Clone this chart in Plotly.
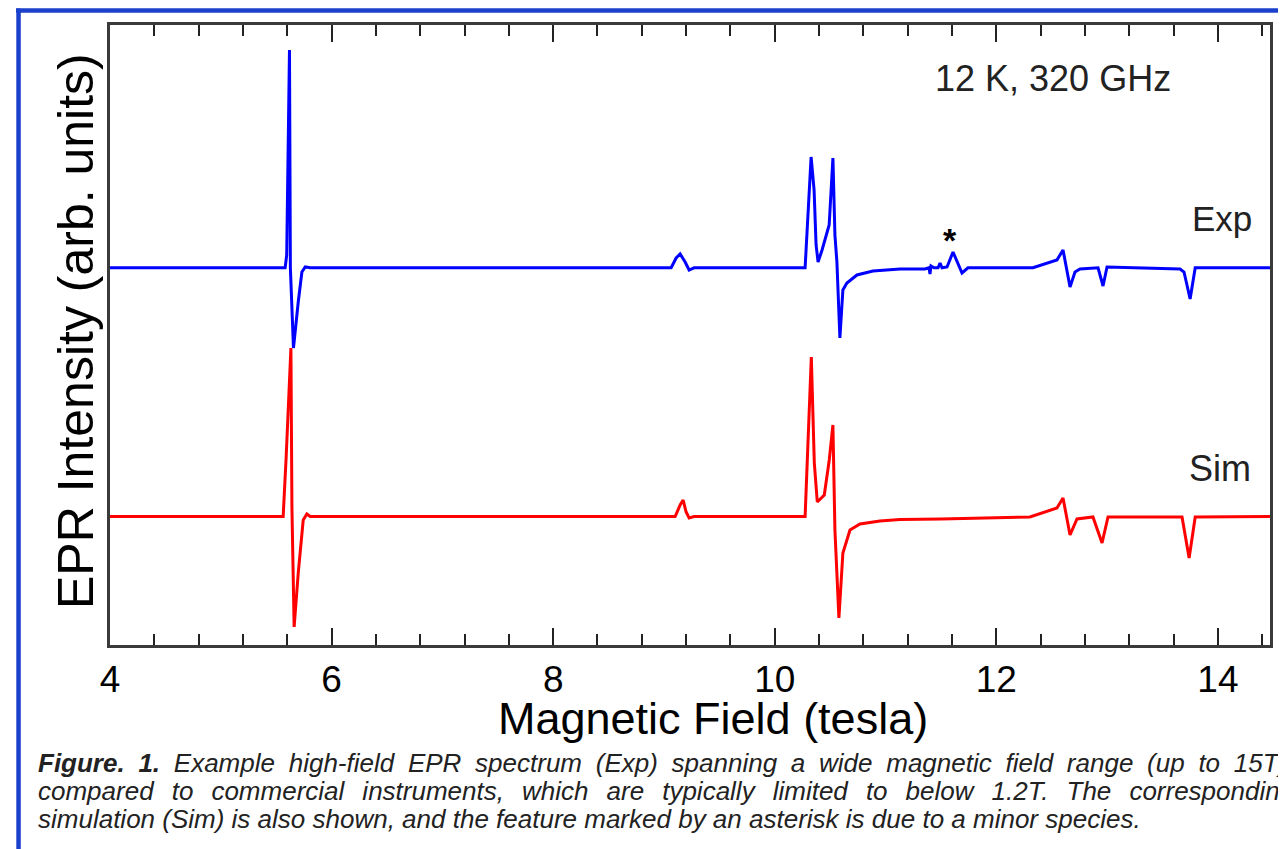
import plotly.graph_objects as go

# ---- data (field in tesla, intensity in arb. units) ----
exp_field = [4.000, 5.581, 5.595, 5.620, 5.628, 5.656, 5.699, 5.732, 5.762, 5.807,
             9.065, 9.110, 9.146, 9.191, 9.227, 9.272,
             10.274, 10.328, 10.355, 10.373, 10.391, 10.427, 10.491, 10.525, 10.543,
             10.561, 10.588, 10.615, 10.651, 10.742, 10.886, 11.130,
             11.356, 11.392, 11.401, 11.410, 11.437, 11.474, 11.492, 11.510,
             11.555, 11.609, 11.690, 11.744,
             12.331, 12.547, 12.602, 12.665, 12.710, 12.755, 12.918, 12.963, 12.999,
             13.658, 13.694, 13.749, 13.795, 14.480]
exp_int = [0.000, 0.000, 0.128, 2.178, 0.000, -0.802, -0.342, -0.042, 0.008, 0.000,
           0.000, 0.098, 0.138, 0.058, -0.022, 0.000,
           0.000, 1.108, 0.778, 0.228, 0.058, 0.178, 0.428, 1.098, 0.328,
           0.058, -0.702, -0.222, -0.152, -0.072, -0.032, -0.012,
           -0.012, 0.000, -0.062, 0.018, 0.000, 0.000, 0.048, 0.000,
           0.008, 0.158, -0.052, 0.000,
           0.000, 0.078, 0.178, -0.192, -0.042, -0.012, 0.000, -0.182, 0.008,
           -0.012, -0.042, -0.312, 0.000, 0.000]

sim_field = [4.000, 5.563, 5.590, 5.633, 5.642, 5.662, 5.699, 5.744, 5.777, 5.807,
             9.101, 9.146, 9.173, 9.200, 9.227, 9.272,
             10.274, 10.330, 10.357, 10.384, 10.447, 10.492, 10.525, 10.543, 10.579,
             10.615, 10.679, 10.769, 10.949, 11.130, 11.500, 11.879,
             12.303, 12.547, 12.602, 12.665, 12.728, 12.872, 12.954, 13.008,
             13.676, 13.740, 13.795, 14.480]
sim_int = [0.000, 0.000, 0.595, 1.685, 0.095, -1.105, -0.565, -0.035, 0.025, 0.000,
           0.000, 0.115, 0.165, 0.045, -0.015, 0.000,
           0.000, 1.595, 0.535, 0.145, 0.215, 0.565, 0.915, -0.135, -1.015,
           -0.365, -0.135, -0.075, -0.045, -0.030, -0.025, -0.018,
           -0.005, 0.085, 0.185, -0.185, -0.025, -0.005, -0.265, -0.005,
           -0.005, -0.415, -0.005, 0.000]

exp_offset = 0.0
sim_offset = -2.487

x_ticks = [4, 6, 8, 10, 12, 14]
x_tick_labels = ["4", "6", "8", "10", "12", "14"]

# caption (justified in the original: widened word gaps on the first two lines)
caption_lines = [
    "<b>Figure. 1.</b> Example high-field EPR spectrum (Exp) spanning a wide magnetic field range (up to 15T)",
    "compared to commercial instruments, which are typically limited to below 1.2T. The corresponding",
    "simulation (Sim) is also shown, and the feature marked by an asterisk is due to a minor species.",
]
caption_gap = [" \u2005", " \u2005\u2006", " "]

FONT = "Liberation Sans, Arial, Helvetica, sans-serif"

fig = go.Figure()
fig.add_trace(go.Scatter(x=exp_field, y=[v + exp_offset for v in exp_int], mode="lines",
                         line=dict(color="#0000ff", width=3), name="Exp", showlegend=False))
fig.add_trace(go.Scatter(x=sim_field, y=[v + sim_offset for v in sim_int], mode="lines",
                         line=dict(color="#ff0000", width=3), name="Sim", showlegend=False))

W, H = 1286, 849
OFF = 8  # page body margin in the browser
L, T = 110 - OFF, 25 - OFF
R = W - (1270.5 - OFF)
B = H - (645 - OFF)
pw, ph = W - L - R, H - T - B

def px(xs):
    return (xs - OFF - L) / pw

def py(ys):
    return (H - B - (ys - OFF)) / ph

fig.update_layout(
    width=W, height=H,
    margin=dict(l=L, r=R, t=T, b=B, pad=0),
    paper_bgcolor="white", plot_bgcolor="white",
    font=dict(family=FONT, color="black"),
    xaxis=dict(range=[4, 14.47], tickmode="array", tickvals=x_ticks, ticktext=x_tick_labels,
               ticks="inside", ticklen=17, tickwidth=2, tickcolor="#222",
               minor=dict(dtick=0.4, tick0=4, ticks="inside", ticklen=11, tickwidth=2, tickcolor="#222"),
               showline=True, linewidth=3, linecolor="#3a3a3a", mirror="allticks",
               showgrid=False, zeroline=False,
               tickfont=dict(size=37, color="black"), ticklabelstandoff=0),
    yaxis=dict(range=[-3.772, 2.428], showticklabels=False, ticks="",
               showline=True, linewidth=3, linecolor="#3a3a3a", mirror=True,
               showgrid=False, zeroline=False),
    shapes=[
        dict(type="line", xref="paper", yref="paper", x0=px(18.5), x1=px(18.5), y0=py(8.5), y1=py(900),
             line=dict(color="#1a40cc", width=4.5)),
        dict(type="line", xref="paper", yref="paper", x0=px(16), x1=px(1300), y0=py(10.5), y1=py(10.5),
             line=dict(color="#1a40cc", width=4.5)),
    ],
)

ann = []
# axis titles
ann.append(dict(text="Magnetic Field (tesla)", x=px(713), y=py(718), xref="paper", yref="paper",
                xanchor="center", yanchor="middle", showarrow=False, font=dict(size=45, color="black")))
ann.append(dict(text="EPR Intensity (arb. units)", x=px(76), y=py(331), xref="paper", yref="paper",
                xanchor="center", yanchor="middle", showarrow=False, textangle=-90,
                font=dict(size=50, color="black")))
# in-plot labels
ann.append(dict(text="12 K, 320 GHz", x=px(1053), y=py(79), xref="paper", yref="paper",
                xanchor="center", yanchor="middle", showarrow=False, font=dict(size=36, color="#222")))
ann.append(dict(text="Exp", x=px(1222), y=py(218), xref="paper", yref="paper",
                xanchor="center", yanchor="middle", showarrow=False, font=dict(size=35, color="#222")))
ann.append(dict(text="Sim", x=px(1220), y=py(468), xref="paper", yref="paper",
                xanchor="center", yanchor="middle", showarrow=False, font=dict(size=36, color="#222")))
ann.append(dict(text="<b>*</b>", x=px(950), y=py(240), xref="paper", yref="paper",
                xanchor="center", yanchor="middle", showarrow=False, font=dict(size=34, color="black")))
for i, line in enumerate(caption_lines):
    txt = line.replace(" ", caption_gap[i])
    ann.append(dict(text="<i>" + txt + "</i>", x=px(36), y=py(763 + 28 * i), xref="paper", yref="paper",
                    xanchor="left", yanchor="middle", showarrow=False, align="left",
                    font=dict(size=26, color="#222")))
fig.update_layout(annotations=ann)

fig.write_html("out.html")
